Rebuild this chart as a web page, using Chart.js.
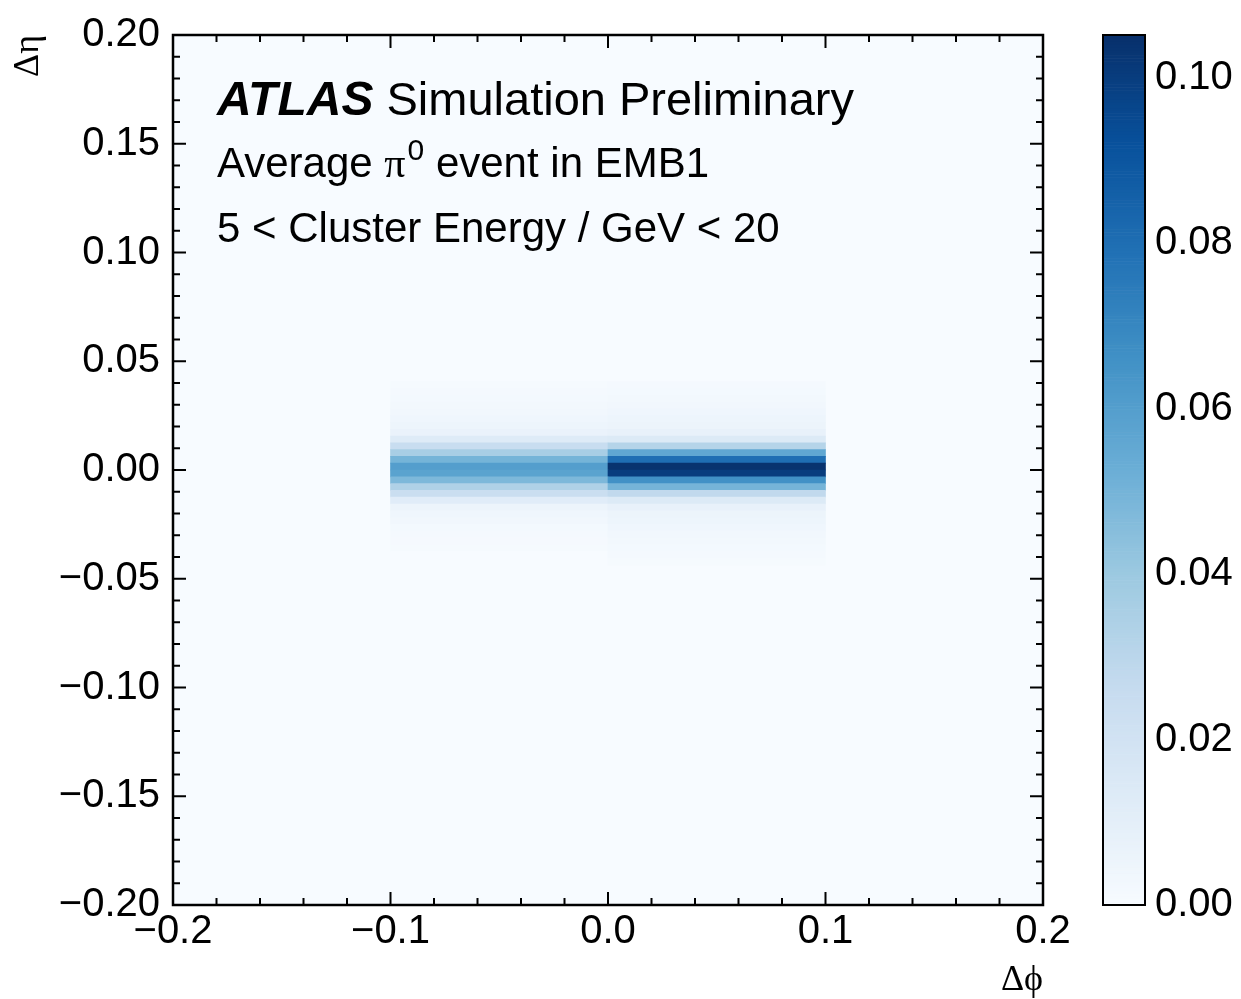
<!DOCTYPE html>
<html>
<head>
<meta charset="utf-8">
<script src="https://cdn.jsdelivr.net/npm/chart.js@4.4.1/dist/chart.umd.min.js"></script>
<style>
  html, body { margin:0; padding:0; background:#fff; }
  #wrap { width:1241px; height:999px; }
</style>
</head>
<body>
<div id="wrap"><canvas id="c" width="1241" height="999"></canvas></div>
<script>
// EMB1 cells: phi bins of 0.1, eta strips of 0.003125
const phiCentres = [-0.05, 0.05];
const etaBin = 0.003125;
// eta row index k covers k*etaBin .. (k+1)*etaBin, listed top to bottom
const etaRows = [12,11,10,9,8,7,6,5,4,3,2,1,0,-1,-2,-3,-4,-5,-6,-7,-8,-9,-10,-11,-12,-13,-14];
// average cell energy fraction, column -0.1 < dphi < 0
const leftCol  = [0.001,0.0015,0.002,0.0025,0.003,0.004,0.005,0.007,0.013,0.025,0.036,0.050,0.060,
                  0.058,0.048,0.034,0.024,0.012,0.006,0.004,0.003,0.002,0.0018,0.0013,0.001,0,0];
// column 0 < dphi < 0.1
const rightCol = [0.0015,0.002,0.0025,0.003,0.004,0.005,0.006,0.008,0.014,0.032,0.056,0.080,0.104,
                  0.100,0.066,0.050,0.028,0.014,0.008,0.006,0.005,0.004,0.003,0.0025,0.002,0.0015,0.001];

const xRange = [-0.2, 0.2];
const yRange = [-0.2, 0.2];
const cbMax = 0.1052;

const blueStops = ['#f7fbff','#deebf7','#c6dbef','#9ecae1','#6baed6','#4292c6','#2171b5','#08519c','#08306b'];
const hex = h => [1,3,5].map(i => parseInt(h.substr(i,2),16));
function blues(t){
  t = Math.max(0, Math.min(1, t));
  const p = t * (blueStops.length - 1);
  const i = Math.min(Math.floor(p), blueStops.length - 2);
  const f = p - i;
  const a = hex(blueStops[i]), b = hex(blueStops[i+1]);
  const c = a.map((v,j) => Math.round(v + (b[j]-v)*f));
  return `rgb(${c[0]},${c[1]},${c[2]})`;
}

const minus = s => s.replace('-', '\u2212');

const cells = [];
etaRows.forEach((k, i) => {
  cells.push({x: phiCentres[0], y: [k*etaBin, (k+1)*etaBin], v: leftCol[i]});
  cells.push({x: phiCentres[1], y: [k*etaBin, (k+1)*etaBin], v: rightCol[i]});
});

const SANS = '"Liberation Sans", Arial, Helvetica, sans-serif';
const SERIF = '"Liberation Serif", "DejaVu Serif", "Times New Roman", serif';

const frame = {
  id:'frame',
  beforeDatasetsDraw(chart){
    const {ctx, chartArea:a} = chart;
    ctx.save();
    ctx.fillStyle = blues(0);
    ctx.fillRect(a.left, a.top, a.right-a.left, a.bottom-a.top);
    ctx.restore();
  },
  afterDraw(chart){
    const {ctx, chartArea:a, scales} = chart;
    const sx = scales.x, sy = scales.y, cb = scales.cb;
    ctx.save();
    // ticks pointing inwards on all sides
    ctx.strokeStyle = '#000';
    ctx.lineWidth = 2;
    ctx.beginPath();
    for (let i = -10; i <= 10; i++){
      const px = sx.getPixelForValue(i*0.02);
      const len = i % 5 === 0 ? 13 : 7;
      ctx.moveTo(px, a.bottom); ctx.lineTo(px, a.bottom - len);
      ctx.moveTo(px, a.top); ctx.lineTo(px, a.top + len);
    }
    for (let i = -20; i <= 20; i++){
      const py = sy.getPixelForValue(i*0.01);
      const len = i % 5 === 0 ? 13 : 7;
      ctx.moveTo(a.left, py); ctx.lineTo(a.left + len, py);
      ctx.moveTo(a.right, py); ctx.lineTo(a.right - len, py);
    }
    ctx.stroke();
    ctx.lineWidth = 2.5;
    ctx.strokeRect(a.left, a.top, a.right-a.left, a.bottom-a.top);

    // colour bar
    const bx = cb.left + 60, bw = 42;
    const steps = 300;
    for (let s = 0; s < steps; s++){
      const v0 = cbMax*s/steps, v1 = cbMax*(s+1)/steps;
      const y0 = cb.getPixelForValue(v0), y1 = cb.getPixelForValue(v1);
      ctx.fillStyle = blues((v0+v1)/2/cbMax);
      ctx.fillRect(bx, y1, bw, y0 - y1 + 0.6);
    }
    ctx.lineWidth = 2;
    ctx.strokeStyle = '#000';
    ctx.strokeRect(bx, cb.getPixelForValue(cbMax), bw, cb.getPixelForValue(0) - cb.getPixelForValue(cbMax));

    // labels in the plot
    ctx.fillStyle = '#000';
    ctx.textBaseline = 'alphabetic';
    let x = a.left + 44;
    ctx.font = `italic bold 48px ${SANS}`;
    ctx.fillText('ATLAS', x, 115);
    x += ctx.measureText('ATLAS').width;
    ctx.font = `47px ${SANS}`;
    ctx.fillText(' Simulation Preliminary', x, 115);

    x = a.left + 44;
    ctx.font = `42px ${SANS}`;
    ctx.fillText('Average ', x, 177);
    x += ctx.measureText('Average ').width;
    ctx.font = `42px ${SERIF}`;
    ctx.fillText('\u03c0', x, 177);
    x += ctx.measureText('\u03c0').width + 2;
    ctx.font = `30px ${SANS}`;
    ctx.fillText('0', x, 160);
    x += ctx.measureText('0').width;
    ctx.font = `42px ${SANS}`;
    ctx.fillText(' event in EMB1', x, 177);

    ctx.fillText('5 < Cluster Energy / GeV < 20', a.left + 44, 242);
    ctx.restore();
  }
};

new Chart(document.getElementById('c'), {
  type: 'bar',
  data: {
    datasets: [{
      data: cells,
      backgroundColor: c => blues(c.raw ? c.raw.v / cbMax : 0),
      borderWidth: 0,
      barPercentage: 1,
      categoryPercentage: 1
    }]
  },
  options: {
    responsive: false,
    animation: false,
    devicePixelRatio: 1,
    layout: { padding: { left: 0, right: 0, top: 35, bottom: 0 } },
    plugins: { legend: { display: false }, tooltip: { enabled: false } },
    scales: {
      x: {
        type: 'linear', min: xRange[0], max: xRange[1], offset: false,
        grid: { display: false, drawTicks: false, offset: false },
        border: { display: false },
        ticks: { stepSize: 0.1, padding: 7, autoSkip: false, maxRotation: 0, color: '#000',
          font: { family: SANS, size: 40, lineHeight: 1.0 }, callback: v => minus(v.toFixed(1)) },
        title: { display: true, text: '\u0394\u03d5', align: 'end', color: '#000',
          font: { family: SERIF, size: 36, lineHeight: 1.0 }, padding: { top: 0, bottom: 0 } },
        afterFit: s => { s.height = 94; }
      },
      y: {
        type: 'linear', min: yRange[0], max: yRange[1],
        grid: { display: false, drawTicks: false },
        border: { display: false },
        ticks: { stepSize: 0.05, padding: 13, autoSkip: false, color: '#000',
          font: { family: SANS, size: 40, lineHeight: 1.0 }, callback: v => minus(v.toFixed(2)) },
        title: { display: true, text: '\u0394\u03b7', align: 'end', color: '#000',
          font: { family: SERIF, size: 36, lineHeight: 1.0 }, padding: { top: 11, bottom: 0 } },
        afterFit: s => { s.width = 173; }
      },
      cb: {
        type: 'linear', position: 'right', min: 0, max: cbMax,
        grid: { display: true, drawOnChartArea: false, drawTicks: true, tickLength: 102, color: 'rgba(0,0,0,0)' },
        border: { display: false },
        ticks: { stepSize: 0.02, padding: 10, includeBounds: false, color: '#000',
          font: { family: SANS, size: 40, lineHeight: 1.0 }, callback: v => v.toFixed(2) },
        afterFit: s => { s.width = 198; }
      }
    }
  },
  plugins: [frame]
});
</script>
</body>
</html>
